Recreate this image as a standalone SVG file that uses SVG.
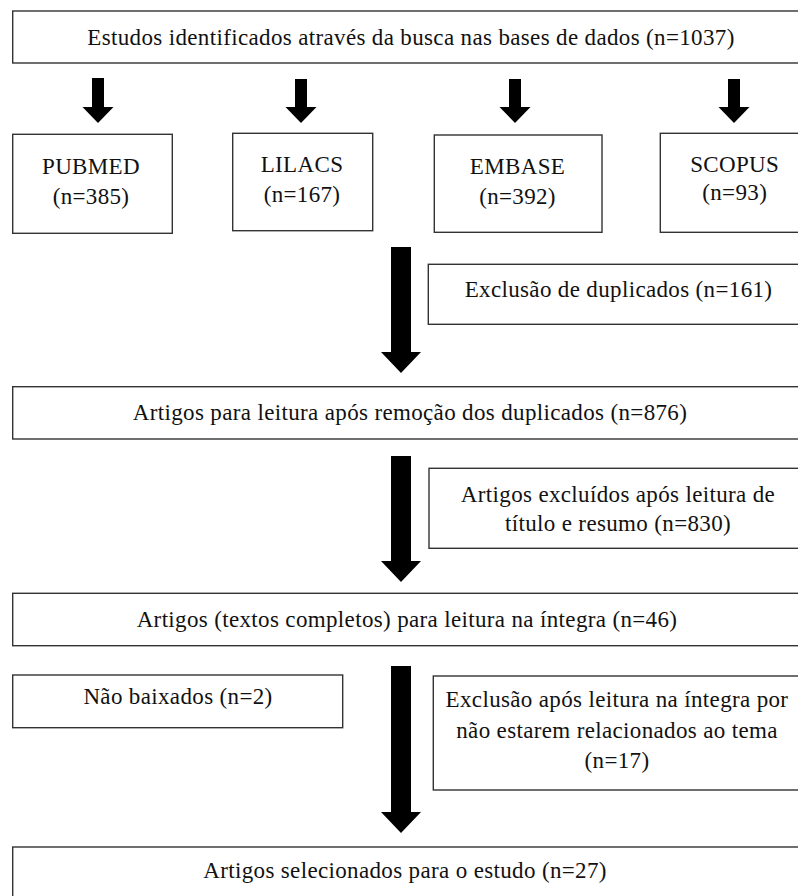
<svg xmlns="http://www.w3.org/2000/svg" width="798" height="896" viewBox="0 0 798 896">
<style>
.box{fill:#fff;stroke:#333;stroke-width:1.4}
text{font-family:'Liberation Serif','Tinos','Times New Roman','DejaVu Serif',serif;font-size:23px;letter-spacing:0.35px;fill:#111;text-anchor:middle}
.arr{fill:#000}
</style>
<rect width="798" height="896" fill="#fff"/>
<g id="n-top"><rect class="box" x="12.7" y="11" width="800" height="52"/><text x="411" y="45">Estudos identificados através da busca nas bases de dados (n=1037)</text></g>
<g id="n-pubmed"><rect class="box" x="12.7" y="134.3" width="159.6" height="99"/><text x="91" y="174">PUBMED</text><text x="91" y="204">(n=385)</text></g>
<g id="n-lilacs"><rect class="box" x="232.7" y="133.3" width="140" height="97.4"/><text x="302" y="171.7">LILACS</text><text x="302" y="202">(n=167)</text></g>
<g id="n-embase"><rect class="box" x="434.3" y="135" width="167.7" height="97.3"/><text x="517.5" y="174.3">EMBASE</text><text x="517.5" y="204">(n=392)</text></g>
<g id="n-scopus"><rect class="box" x="660.3" y="133.3" width="160" height="99"/><text x="734.7" y="171.7">SCOPUS</text><text x="734.7" y="200">(n=93)</text></g>
<g id="n-dup"><rect class="box" x="428.3" y="264.3" width="400" height="60"/><text x="618.5" y="297">Exclusão de duplicados (n=161)</text></g>
<g id="n-leitura"><rect class="box" x="12.7" y="386.7" width="800" height="52.3"/><text x="410" y="420">Artigos para leitura após remoção dos duplicados (n=876)</text></g>
<g id="n-excl"><rect class="box" x="429" y="468.3" width="400" height="80"/><text x="618" y="502">Artigos excluídos após leitura de</text><text x="618" y="531">título e resumo (n=830)</text></g>
<g id="n-integra"><rect class="box" x="12.7" y="593.3" width="800" height="52.4"/><text x="407" y="627">Artigos (textos completos) para leitura na íntegra (n=46)</text></g>
<g id="n-nao"><rect class="box" x="12.7" y="675" width="330" height="52.7"/><text x="178" y="704">Não baixados (n=2)</text></g>
<g id="n-excl2"><rect class="box" x="433.3" y="676" width="400" height="114"/><text x="617" y="707">Exclusão após leitura na íntegra por</text><text x="617" y="738">não estarem relacionados ao tema</text><text x="617" y="768">(n=17)</text></g>
<g id="n-final"><rect class="box" x="12.7" y="847" width="800" height="80"/><text x="405" y="878">Artigos selecionados para o estudo (n=27)</text></g>
<g id="connectors">
<polygon class="arr" points="92,78 104,78 104,107 113.5,107 98,123 82.5,107 92,107"/>
<polygon class="arr" points="295,79 307,79 307,107 316.5,107 301,123 285.5,107 295,107"/>
<polygon class="arr" points="509,79 521,79 521,107 530.5,107 515,123 499.5,107 509,107"/>
<polygon class="arr" points="728,79 740,79 740,107 749.5,107 734,123 718.5,107 728,107"/>
<polygon class="arr" points="391,247 411,247 411,352 421,352 401,373 381,352 391,352"/>
<polygon class="arr" points="391,456 411,456 411,561 421,561 401,582 381,561 391,561"/>
<polygon class="arr" points="391,666 411,666 411,812 421,812 401,833 381,812 391,812"/>
</g>
</svg>
